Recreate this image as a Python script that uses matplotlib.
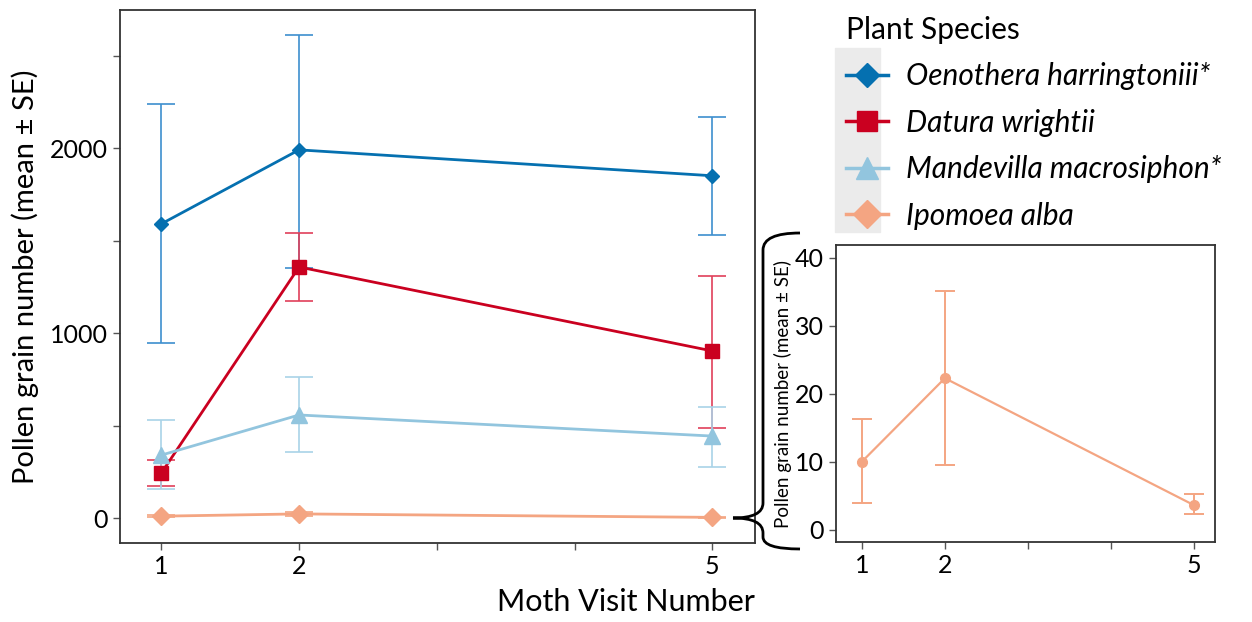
import matplotlib
matplotlib.use('Agg')
import matplotlib.pyplot as plt
from matplotlib.lines import Line2D
from matplotlib.patches import Rectangle, PathPatch
from matplotlib.path import Path

plt.rcParams['font.family'] = ['Lato', 'DejaVu Sans']

## data
visits = [1, 2, 5]
species = ['Oenothera harringtoniii*', 'Datura wrightii',
           'Mandevilla macrosiphon*', 'Ipomoea alba']

oen_mean = [1590, 1990, 1850]
oen_lo = [946, 1351, 1530]
oen_hi = [2238, 2611, 2168]

dat_mean = [243, 1357, 903]
dat_lo = [172, 1173, 486]
dat_hi = [314, 1541, 1308]

man_mean = [340, 557, 443]
man_lo = [157, 357, 276]
man_hi = [530, 762, 600]

ipo_mean = [10.0, 22.3, 3.6]
ipo_lo = [3.9, 9.6, 2.3]
ipo_hi = [16.3, 35.1, 5.2]

line_cols = ['#0570b0', '#ca0020', '#92c5de', '#f4a582']
err_cols = ['#3d8fce', '#e0405a', '#a9d3e8', '#f4a582']
markers = ['D', 's', '^', 'D']
msizes = [7, 10, 11, 9]

W, H = 1252, 622
fig = plt.figure(figsize=(W / 100, H / 100), dpi=100)

def px(x, y):
    return x / W, 1 - y / H

def style_axes(ax):
    for s in ax.spines.values():
        s.set_color('#333333')
        s.set_linewidth(1.3)
    ax.tick_params(which='both', direction='out', color='#555555', width=1)
    ax.tick_params(which='major', length=5)
    ax.tick_params(which='minor', length=5)

## main panel
ax = fig.add_axes([120 / W, (H - 543) / H, (755 - 120) / W, (543 - 10) / H])
series = [(oen_mean, oen_lo, oen_hi), (dat_mean, dat_lo, dat_hi),
          (man_mean, man_lo, man_hi), (ipo_mean, ipo_lo, ipo_hi)]
for i, (m, lo, hi) in enumerate(series):
    yerr = [[a - b for a, b in zip(m, lo)], [b - a for a, b in zip(m, hi)]]
    ax.errorbar(visits, m, yerr=yerr, fmt='none', ecolor=err_cols[i],
                elinewidth=1.2, capsize=10, capthick=1.2, zorder=2)
    ax.plot(visits, m, color=line_cols[i], lw=2, marker=markers[i],
            ms=msizes[i], zorder=3)

ax.set_xlim(0.70, 5.31)
ax.set_ylim(-135, 2746)
ax.set_xticks([1, 2, 5])
ax.set_xticks([3, 4], minor=True)
ax.set_yticks([0, 1000, 2000])
ax.set_yticks([500, 1500, 2500], minor=True)
ax.tick_params(labelsize=18)
style_axes(ax)
ax.set_xlabel('Moth Visit Number', fontsize=22, loc='right', labelpad=7)
ax.set_ylabel('Pollen grain number (mean ± SE)', fontsize=21, labelpad=8)

## inset panel for Ipomoea
ax2 = fig.add_axes([836 / W, (H - 542) / H, (1215 - 836) / W, (542 - 245) / H])
yerr = [[a - b for a, b in zip(ipo_mean, ipo_lo)],
        [b - a for a, b in zip(ipo_mean, ipo_hi)]]
ax2.errorbar(visits, ipo_mean, yerr=yerr, fmt='none', ecolor=err_cols[3],
             elinewidth=1.4, capsize=7, capthick=1.4)
ax2.plot(visits, ipo_mean, color=line_cols[3], lw=1.6, marker='o', ms=7)
ax2.set_xlim(0.69, 5.25)
ax2.set_ylim(-1.8, 41.9)
ax2.set_xticks([1, 2, 5])
ax2.set_xticks([3, 4], minor=True)
ax2.set_yticks([0, 10, 20, 30, 40])
ax2.tick_params(labelsize=18)
style_axes(ax2)
ax2.set_ylabel('Pollen grain number (mean ± SE)', fontsize=13.5, labelpad=2)

## curly brace joining the two panels
pts = [(800, 233), (763, 233), (763, 250), (763, 503), (763, 518), (733, 518),
       (763, 518), (763, 533), (763, 537), (763, 549), (800, 549)]
codes = [Path.MOVETO, Path.CURVE3, Path.CURVE3, Path.LINETO, Path.CURVE3,
         Path.CURVE3, Path.CURVE3, Path.CURVE3, Path.LINETO, Path.CURVE3,
         Path.CURVE3]
brace = Path([px(*p) for p in pts], codes)
fig.patches.append(PathPatch(brace, transform=fig.transFigure, fill=False,
                             lw=2, ec='black'))

## legend
fig.patches.append(Rectangle(px(835, 232), 45 / W, 184 / H,
                             transform=fig.transFigure, color='#ebebeb', zorder=0))
handles = [Line2D([], [], color=line_cols[i], lw=2.5, marker=markers[i],
                  ms=msizes[i] + 5) for i in range(4)]
leg = fig.legend(handles, species, loc='upper left',
                 bbox_to_anchor=px(822, -8), frameon=False, title='Plant Species',
                 prop={'size': 21.5, 'style': 'italic'}, title_fontsize=21.5,
                 handlelength=1.4, handletextpad=0.6, labelspacing=0.62,
                 alignment='left', borderpad=0.3)

fig.savefig('out.png', dpi=100)
